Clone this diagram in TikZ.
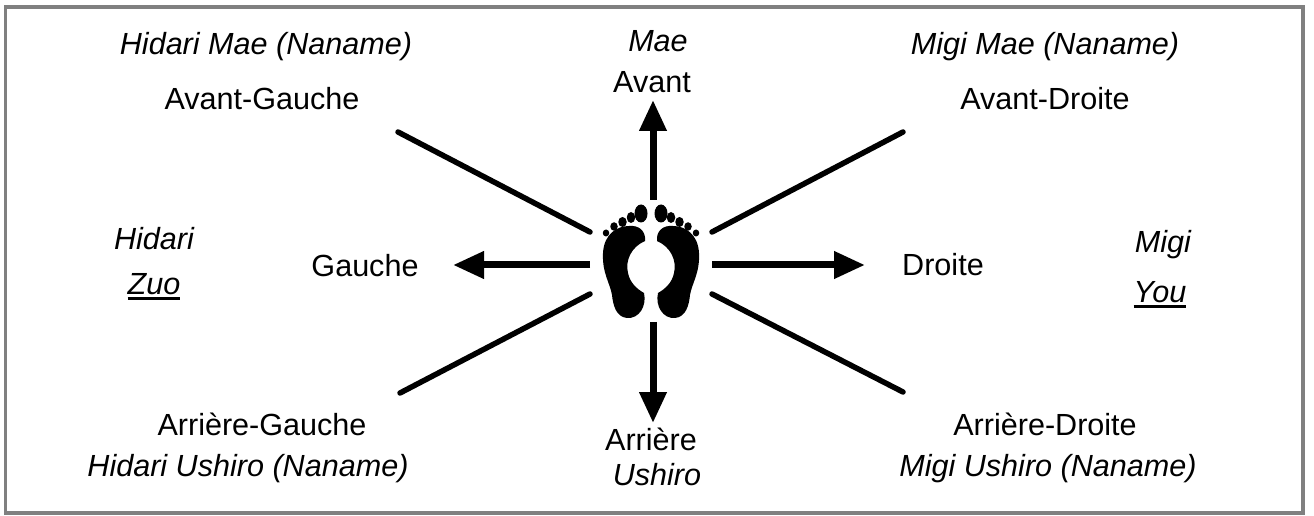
\documentclass[tikz,border=0pt]{standalone}
\usepackage{fontspec}
\setmainfont{Liberation Sans}
\usetikzlibrary{arrows.meta}
\newcommand{\lblfont}{\fontsize{17.4pt}{21pt}\selectfont}
\newcommand{\thickul}[1]{\setbox0=\hbox{#1}\rlap{\rule[-0.1cm]{\wd0}{0.06cm}}\box0}
\tikzset{
  lbl/.style={anchor=base, inner sep=0pt, font=\lblfont},
  ray/.style={line width=0.11cm, line cap=round},
  dir/.style={line width=0.14cm, -{Triangle[length=0.62cm,width=0.52cm]}}
}
\begin{document}
\begin{tikzpicture}[x=0.02cm,y=-0.02cm]
\useasboundingbox (0,0) rectangle (1314,516);
\fill[white] (0,0) rectangle (1314,516);
\draw[line width=0.08cm, color={rgb,255:red,128;green,128;blue,128}] (5.5,7) rectangle (1303,513);

% labels
\node[lbl] (hmae) at (266,55) {\itshape Hidari Mae (Naname)};
\node[lbl] (avg) at (262,110) {Avant-Gauche};
\node[lbl] (mae) at (658,52) {\itshape Mae};
\node[lbl] (avant) at (652,93) {Avant};
\node[lbl] (mmae) at (1045,55) {\itshape Migi Mae (Naname)};
\node[lbl] (avd) at (1045,110) {Avant-Droite};

\node[lbl] (hidari) at (154,250) {\itshape Hidari};
\node[lbl] (zuo) at (154,295) {\thickul{\itshape Zuo}};
\node[lbl] (gauche) at (365,277) {Gauche};
\node[lbl] (droite) at (943,276) {Droite};
\node[lbl] (migi) at (1163,253) {\itshape Migi};
\node[lbl] (you) at (1160,303) {\thickul{\itshape You}};

\node[lbl] (arg) at (262,436) {Arrière-Gauche};
\node[lbl] (hush) at (248,476) {\itshape Hidari Ushiro (Naname)};
\node[lbl] (arriere) at (651,450) {Arrière};
\node[lbl] (ushiro) at (657,485) {\itshape Ushiro};
\node[lbl] (ard) at (1045,436) {Arrière-Droite};
\node[lbl] (mush) at (1048,476) {\itshape Migi Ushiro (Naname)};

% ends of the rays and arrows
\coordinate (c-n) at (653,200);
\coordinate (t-n) at (653,100);
\coordinate (c-s) at (653,322);
\coordinate (t-s) at (653,423);
\coordinate (c-w) at (590,265);
\coordinate (t-w) at (453,265);
\coordinate (c-e) at (712,265);
\coordinate (t-e) at (865,265);
\coordinate (c-nw) at (590,232);
\coordinate (t-nw) at (398,132);
\coordinate (c-ne) at (712,232);
\coordinate (t-ne) at (903,132);
\coordinate (c-sw) at (590,294);
\coordinate (t-sw) at (400,393);
\coordinate (c-se) at (712,294);
\coordinate (t-se) at (903,392);

\draw[dir] (c-n) -- (t-n);
\draw[dir] (c-s) -- (t-s);
\draw[dir] (c-w) -- (t-w);
\draw[dir] (c-e) -- (t-e);
\draw[ray] (c-nw) -- (t-nw);
\draw[ray] (c-ne) -- (t-ne);
\draw[ray] (c-sw) -- (t-sw);
\draw[ray] (c-se) -- (t-se);

% feet
\foreach \s in {1,-1} {
\begin{scope}[shift={(651,265)}, xscale=\s]
\fill[black] (-22,-39) .. controls (-12,-40) and (-5,-34) .. (-6,-24)
  .. controls (-20,-18) and (-26,-4) .. (-23,8)
  .. controls (-21,18) and (-14,24) .. (-7,28)
  .. controls (-4,41) and (-12,54) .. (-24,53)
  .. controls (-35,52) and (-38,40) .. (-39,30)
  .. controls (-41,18) and (-49,8) .. (-48,-12)
  .. controls (-47,-31) and (-34,-39) .. (-22,-39) -- cycle;
\fill[black] (-10,-51.5) ellipse [x radius=0.13cm, y radius=0.18cm];
\fill[black] (-20,-47.5) ellipse [x radius=0.085cm, y radius=0.11cm];
\fill[black] (-28.5,-43) ellipse [x radius=0.085cm, y radius=0.1cm];
\fill[black] (-37,-38.5) ellipse [x radius=0.075cm, y radius=0.085cm];
\fill[black] (-45,-32) ellipse [x radius=0.065cm, y radius=0.07cm];
\end{scope}
}
\end{tikzpicture}
\end{document}
